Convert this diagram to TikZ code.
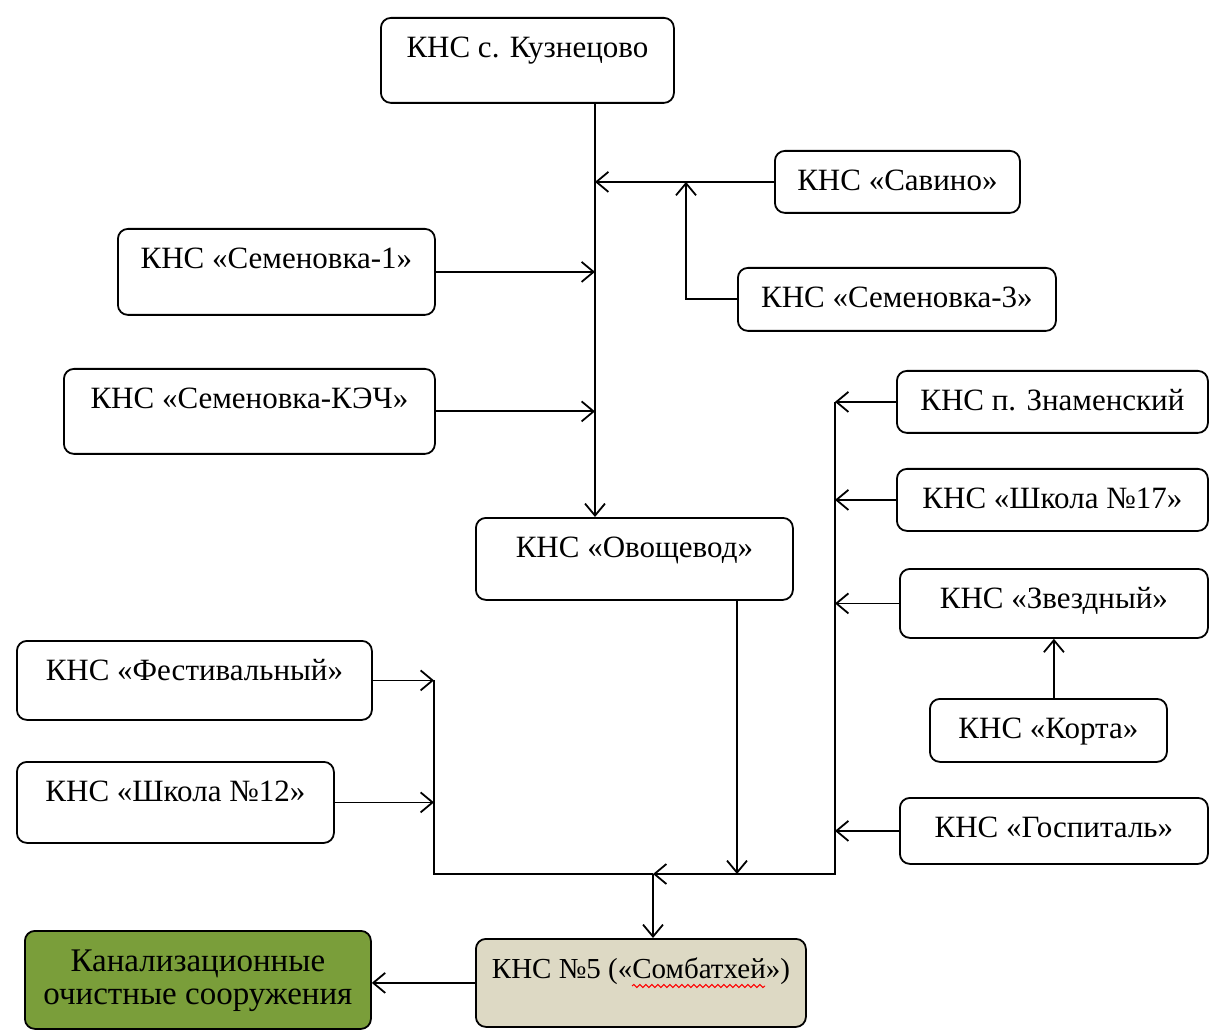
\documentclass[tikz,border=0pt]{standalone}
\usepackage{fontspec}
\setmainfont{Liberation Serif}
\usetikzlibrary{arrows.meta,decorations.pathmorphing}
\definecolor{kosgreen}{RGB}{122,158,58}
\definecolor{knsbeige}{RGB}{221,217,196}

\begin{document}
\begin{tikzpicture}[x=0.5pt, y=-0.5pt, font=\fontsize{15.5}{19}\selectfont,
  kbox/.style={draw, rounded corners=5pt, line width=0.9pt, inner sep=0pt, anchor=north west, text height=20pt, text depth=#1},
  flow/.style={line width=0.9pt, -{Straight Barb[length=6pt, width=10pt, line width=0.9pt]}},
  pipe/.style={line width=0.9pt}]
\useasboundingbox (0,0) rectangle (1209,1031);
% stations
\node[kbox=22.5pt, minimum width=146.5pt] (kuzn) at (380,17) {КНС с. Кузнецово};
\node[kbox=11pt, minimum width=122.5pt] (savino) at (774,150) {КНС «Савино»};
\node[kbox=23pt, minimum width=158.5pt] (sem1) at (117,228) {КНС «Семеновка-1»};
\node[kbox=11.5pt, minimum width=159pt] (sem3) at (737,267) {КНС «Семеновка-3»};
\node[kbox=22.5pt, minimum width=185.5pt] (semkech) at (63,368) {КНС «Семеновка-КЭЧ»};
\node[kbox=11pt, minimum width=155.5pt] (znam) at (896,370) {КНС п. Знаменский};
\node[kbox=11pt, minimum width=155.5pt] (shk17) at (896,468) {КНС «Школа №17»};
\node[kbox=21pt, minimum width=158.5pt] (ovosh) at (475,517) {КНС «Овощевод»};
\node[kbox=14.5pt, minimum width=154pt] (zvezd) at (899,568) {КНС «Звездный»};
\node[kbox=19.5pt, minimum width=177.5pt] (fest) at (16,640) {КНС «Фестивальный»};
\node[kbox=11.5pt, minimum width=118.5pt] (korta) at (929,698) {КНС «Корта»};
\node[kbox=20.5pt, minimum width=158.5pt] (shk12) at (16,761) {КНС «Школа №12»};
\node[kbox=13pt, minimum width=154pt] (gosp) at (899,797) {КНС «Госпиталь»};
\node[kbox=24pt, minimum width=165pt, fill=knsbeige, font=\fontsize{14.5}{18}\selectfont] (kns5) at (475,938) {КНС №5 («Сомбатхей»)};
\node[draw, rounded corners=5pt, line width=0.9pt, anchor=north west, fill=kosgreen, align=center, minimum width=173pt, minimum height=49pt, inner sep=0pt, yshift=-2.5pt, text depth=2.5pt, font=\fontsize{16.5}{16.5}\selectfont] (kos) at (24,925) {Канализационные\\очистные сооружения};
\draw[red, line width=0.5pt, decorate, decoration={snake, amplitude=0.8pt, segment length=3pt}] (632,986) -- (765,986);
% buses
\coordinate (mbus) at (595,0); \coordinate (s3up) at (686,0); \coordinate (rbus) at (835,0);
\coordinate (lbus) at (434,0); \coordinate (ovout) at (737,0); \coordinate (join) at (653,874);
\draw[flow] (kuzn.south -| mbus) -- (ovosh.north -| mbus);
\draw[flow] (savino.west) -- (savino.west -| mbus);
\draw[flow] (sem3.west) -| (s3up |- savino.west);
\draw[flow] (sem1.east) -- (sem1.east -| mbus);
\draw[flow] (semkech.east) -- (semkech.east -| mbus);
\draw[flow] (znam.west -| rbus) |- (join);
\draw[flow] (znam.west) -- (znam.west -| rbus);
\draw[flow] (shk17.west) -- (shk17.west -| rbus);
\draw[flow] (zvezd.west) -- (zvezd.west -| rbus);
\draw[flow] (gosp.west) -- (gosp.west -| rbus);
\draw[flow] (korta.north -| zvezd.south) -- (zvezd.south);
\draw[pipe] (fest.east -| lbus) |- (join);
\draw[flow] (fest.east) -- (fest.east -| lbus);
\draw[flow] (shk12.east) -- (shk12.east -| lbus);
\draw[flow] (ovosh.south -| ovout) -- (join -| ovout);
\draw[flow] (join) -- (join |- kns5.north);
\draw[flow] (kns5.west) -- (kns5.west -| kos.east);
\end{tikzpicture}
\end{document}
